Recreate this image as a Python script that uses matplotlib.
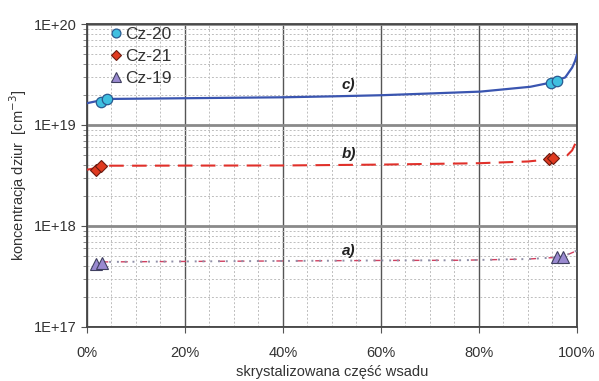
import matplotlib
matplotlib.use("Agg")
import matplotlib.pyplot as plt
from matplotlib.ticker import LogLocator, FixedLocator, MultipleLocator, NullFormatter

plt.rcParams['font.family'] = ['Liberation Sans', 'DejaVu Sans']

# ---- data (x in % of crystallized charge, y in cm^-3) ----
x_ticks = [0, 20, 40, 60, 80, 100]
x_tick_labels = ["0%", "20%", "40%", "60%", "80%", "100%"]
y_ticks = [1e17, 1e18, 1e19, 1e20]
y_tick_labels = ["1E+17", "1E+18", "1E+19", "1E+20"]

# curve c) (blue, solid)
g_c = [0, 2, 4.1, 10, 20, 30, 40, 50, 60, 70, 80.3, 90.5, 95, 97.6, 99, 99.6, 100]
c_c = [1.64e19, 1.72e19, 1.81e19, 1.82e19, 1.84e19, 1.86e19, 1.88e19, 1.92e19,
       1.97e19, 2.05e19, 2.14e19, 2.39e19, 2.65e19, 2.96e19, 3.7e19, 4.3e19, 5.0e19]
# curve b) (red, dashed)
g_b = [0, 2, 4, 10, 20, 40, 60, 80, 90, 94, 96, 98, 99, 100]
c_b = [3.6e18, 3.75e18, 3.95e18, 3.95e18, 3.96e18, 3.97e18, 4.05e18, 4.18e18,
       4.35e18, 4.55e18, 4.7e18, 5.0e18, 5.6e18, 7.1e18]
# curve a) (dotted)
g_a = [3, 20, 40, 60, 76, 90, 96.5, 98.5, 100]
c_a = [4.4e17, 4.45e17, 4.5e17, 4.55e17, 4.57e17, 4.7e17, 4.9e17, 5.3e17, 5.7e17]

# measured points
cz20_x = [2.85, 4.1, 94.7, 95.9]
cz20_y = [1.67e19, 1.81e19, 2.61e19, 2.75e19]
cz21_x = [1.9, 3.0, 94.2, 95.2]
cz21_y = [3.62e18, 3.9e18, 4.6e18, 4.7e18]
cz19_x = [1.9, 3.1, 95.9, 97.1]
cz19_y = [4.17e17, 4.3e17, 4.87e17, 4.93e17]

series_names = ["Cz-20", "Cz-21", "Cz-19"]
curve_labels = ["c)", "b)", "a)"]

# ---- figure ----
fig = plt.figure(figsize=(5.99, 3.81), dpi=100)
ax = fig.add_axes([0.1447, 0.142, 0.8186, 0.795])

ax.set_xscale('linear')
ax.set_yscale('log')
ax.set_xlim(0, 100)
ax.set_ylim(1e17, 1e20)

# grid
ax.xaxis.set_major_locator(FixedLocator(x_ticks))
ax.xaxis.set_minor_locator(MultipleLocator(5))
ax.yaxis.set_major_locator(FixedLocator(y_ticks))
ax.yaxis.set_minor_locator(LogLocator(base=10, subs=range(2, 10)))
ax.yaxis.set_minor_formatter(NullFormatter())
ax.grid(which='minor', color='#bdbdbd', linestyle=(0, (2, 2)), linewidth=0.7)
ax.grid(which='major', axis='x', color='#555555', linestyle='-', linewidth=1.0)
ax.grid(which='major', axis='y', color='#8a8a8a', linestyle='-', linewidth=2.0)
ax.set_axisbelow(True)

ax.set_xticklabels(x_tick_labels)
ax.set_yticklabels(y_tick_labels)
ax.tick_params(which='major', direction='out', length=4, color='#555555',
               labelsize=10.5, labelcolor='#333333', pad=3)
ax.tick_params(axis='x', which='major', pad=10)
ax.tick_params(which='minor', direction='out', length=3, color='#777777')
ax.tick_params(axis='x', which='minor', length=0)

for s in ax.spines.values():
    s.set_color('#444444')
    s.set_linewidth(1.3)

# curves
ax.plot(g_c, c_c, color='#3a55b0', linewidth=1.6, solid_capstyle='round', zorder=3)
ax.plot(g_b, c_b, color='#e0302a', linewidth=1.5, linestyle=(0, (7, 4)), zorder=3)
ax.plot(g_a, c_a, color='#d04060', linewidth=1.0, linestyle=(0, (5, 9)), zorder=3)
ax.plot(g_a, c_a, color='#9090a8', linewidth=1.4, linestyle=(0, (1, 3)), zorder=3)

# markers
ax.plot(cz20_x, cz20_y, linestyle='none', marker='o', markersize=7.5,
        markerfacecolor='#3fbfe0', markeredgecolor='#2a5a90', markeredgewidth=0.9,
        label=series_names[0], zorder=4)
ax.plot(cz21_x, cz21_y, linestyle='none', marker='D', markersize=6.0,
        markerfacecolor='#e03a20', markeredgecolor='#6a1a10', markeredgewidth=0.8,
        label=series_names[1], zorder=4)
ax.plot(cz19_x, cz19_y, linestyle='none', marker='^', markersize=8,
        markerfacecolor='#9a8ad0', markeredgecolor='#404060', markeredgewidth=0.8,
        label=series_names[2], zorder=4)

# curve labels
lab_font = dict(fontsize=11, fontweight='bold', fontstyle='italic', color='#222222',
                ha='center', va='center')
ax.text(53.4, 2.46e19, curve_labels[0], **lab_font)
ax.text(53.4, 5.2e18, curve_labels[1], **lab_font)
ax.text(53.4, 5.7e17, curve_labels[2], **lab_font)

leg = ax.legend(loc='upper left', frameon=False, fontsize=12.5, handletextpad=0.05,
                handlelength=1.0, labelspacing=0.38, borderaxespad=0.0,
                bbox_to_anchor=(0.028, 1.012), markerscale=0.85)
for t in leg.get_texts():
    t.set_color('#333333')

ax.set_xlabel('skrystalizowana część wsadu', fontsize=10.5, color='#333333', labelpad=3)
ax.set_ylabel('koncentracja dziur  [cm$^{-3}$]', fontsize=10.5, color='#333333', labelpad=4)

fig.savefig('out.png', dpi=100, facecolor='white')
